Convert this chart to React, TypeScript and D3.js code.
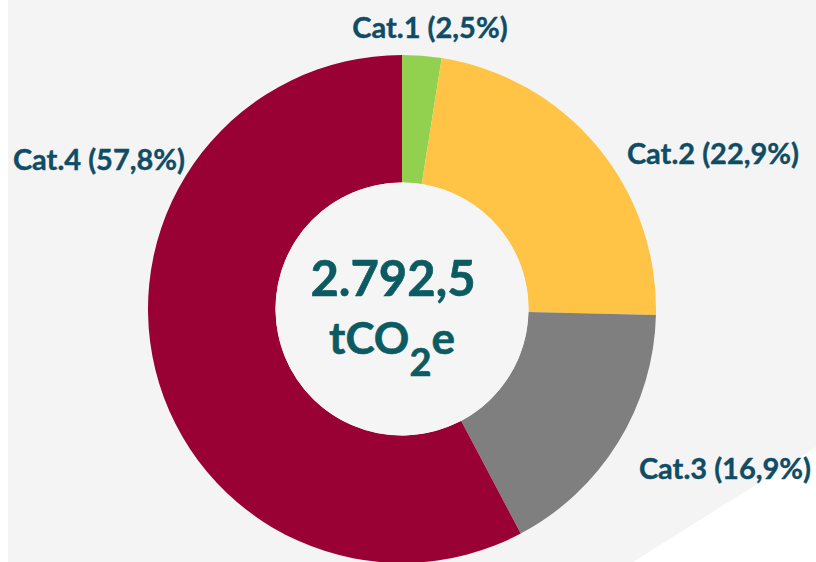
import React from "react";
import * as d3 from "d3";

const categories = ["Cat.1", "Cat.2", "Cat.3", "Cat.4"];
const shares = [2.5, 22.9, 16.9, 57.8];
const shareLabels = ["2,5%", "22,9%", "16,9%", "57,8%"];
const totalLabel = "2.792,5";
const unitMain = "tCO";
const unitSub = "2";
const unitEnd = "e";

const W = 816;
const H = 562;
const CX = 402;
const CY = 309;
const R_OUT = 254;
const R_IN = 126.5;

const fills = ["#92d050", "url(#yellowGrad)", "#7f7f7f", "#990033"];
const labelPos: [number, number][] = [
  [430, 38],
  [713, 164],
  [725, 479],
  [99, 170],
];

export default function App() {
  const pie = d3
    .pie<number>()
    .sort(null)
    .value((d) => d)
    .startAngle(0)
    .endAngle(2 * Math.PI);
  const arcs = pie(shares);
  const arc = d3.arc<d3.PieArcDatum<number>>().innerRadius(R_IN).outerRadius(R_OUT);
  const font = "Lato, 'Open Sans', sans-serif";
  return (
    <svg
      width={W}
      height={H}
      style={{ position: "absolute", left: 0, top: 0, display: "block" }}
    >
      <defs>
        <linearGradient id="yellowGrad" x1="0" y1={CY - R_OUT} x2="0" y2={CY + 8} gradientUnits="userSpaceOnUse">
          <stop offset="0" stopColor="#ffc445" />
          <stop offset="1" stopColor="#e9b02a" />
        </linearGradient>
      </defs>
      <rect x={0} y={0} width={W} height={H} fill="#ffffff" />
      <rect x={8} y={0} width={W - 8} height={H} fill="#f4f4f4" />
      <polygon points={`633,${H} ${W},447 ${W},${H}`} fill="#ffffff" />
      <g transform={`translate(${CX},${CY})`}>
        {arcs.map((a, i) => (
          <path key={categories[i]} d={arc(a) || ""} fill={fills[i]} />
        ))}
        <circle r={R_IN} fill="#f5f5f5" />
      </g>
      {categories.map((c, i) => (
        <text
          key={c}
          x={labelPos[i][0]}
          y={labelPos[i][1]}
          textAnchor="middle"
          fontFamily={font}
          fontWeight={700}
          fontSize={29}
          fill="#0f4c66"
          stroke="#0f4c66"
          strokeWidth={0.4}
        >
          {`${c} (${shareLabels[i]})`}
        </text>
      ))}
      <text
        x={393}
        y={296}
        textAnchor="middle"
        fontFamily={font}
        fontWeight={700}
        fontSize={49}
        fill="#0d5b62"
        stroke="#0d5b62"
        strokeWidth={0.6}
      >
        {totalLabel}
      </text>
      <text
        x={392}
        y={354}
        textAnchor="middle"
        fontFamily={font}
        fontWeight={700}
        fontSize={44}
        fill="#0d5b62"
        stroke="#0d5b62"
        strokeWidth={0.6}
      >
        {unitMain}
        <tspan fontSize={38} dy={22}>{unitSub}</tspan>
        <tspan dy={-22}>{unitEnd}</tspan>
      </text>
    </svg>
  );
}
